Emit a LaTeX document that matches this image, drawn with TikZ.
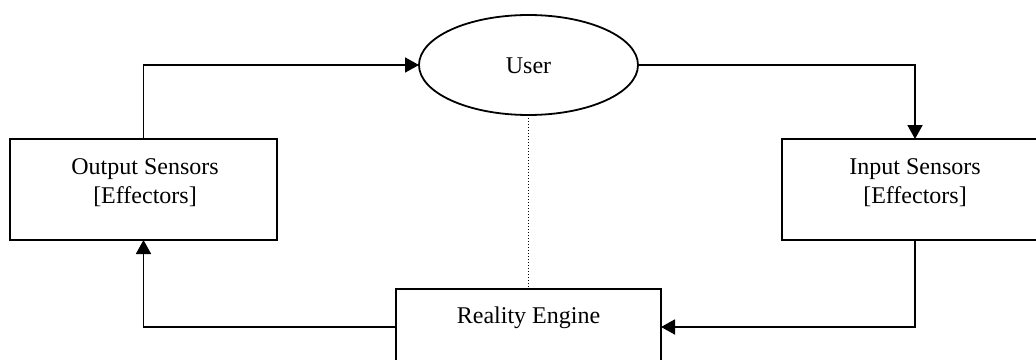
\documentclass[tikz,border=0pt]{standalone}
\usepackage{fontspec}
\setmainfont{Liberation Serif}
\usetikzlibrary{shapes.geometric,arrows.meta}
\begin{document}
\begin{tikzpicture}[x=1pt,y=-1pt,
  boxnode/.style={draw,line width=1.8pt,inner sep=0pt,outer sep=0pt},
  txt/.style={align=center,font=\fontsize{24}{29}\selectfont,inner sep=0pt},
  arr/.style={line width=1.8pt,-{Triangle[length=14pt,width=15pt]}},
  dotline/.style={line width=1pt,dotted}]
\useasboundingbox (0,0) rectangle (1036,359);
\clip (0,0) rectangle (1036,359);
\fill[white] (0,0) rectangle (1036,359);
\node[boxnode,ellipse,minimum width=219pt,minimum height=100pt] (user) at (528.5,65) {};
\node[txt] (usert) at (528.5,66) {User};
\node[boxnode,minimum width=267pt,minimum height=101pt] (out) at (143.5,189.5) {};
\node[txt] (outt) at (145,182.5) {Output Sensors\\{}[Effectors]};
\node[boxnode,minimum width=266pt,minimum height=101pt] (in) at (915,189.5) {};
\node[txt] (int) at (915,182.5) {Input Sensors\\{}[Effectors]};
\node[boxnode,minimum width=265pt,minimum height=76pt] (re) at (528.5,327) {};
\node[txt] (ret) at (528.5,318) {Reality Engine};
\draw[arr] (out.north) |- (user.west);
\draw[arr] (user.east) -| (in.north);
\draw[arr] (in.south) |- (re.east);
\draw[arr] (re.west) -| (out.south);
\draw[dotline] (user.south) -- (re.north);
\end{tikzpicture}
\end{document}
